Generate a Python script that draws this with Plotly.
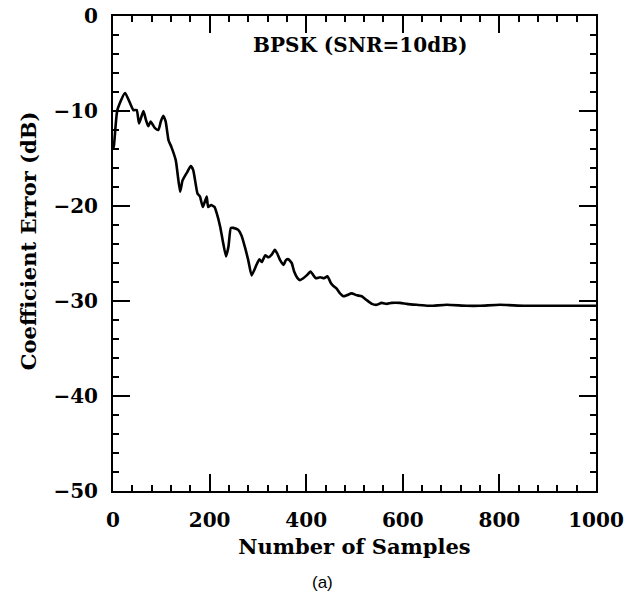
import plotly.graph_objects as go

samples = [0, 2, 9, 25, 42, 49, 54, 63, 68, 73, 78, 83, 87, 94, 99, 104, 109, 115, 121, 130,
           139, 144, 154, 161, 166, 175, 180, 186, 194, 197, 203, 210, 215, 222, 227, 234,
           239, 244, 249, 259, 266, 273, 280, 287, 297, 303, 308, 315, 322, 329, 335, 340,
           346, 353, 358, 363, 370, 375, 382, 387, 394, 401, 409, 415, 420, 429, 437, 444,
           451, 456, 463, 470, 477, 484, 494, 505, 515, 525, 536, 546, 556, 567, 577, 594,
           608, 629, 653, 663, 691, 732, 760, 801, 850, 900, 950, 1000]
error_db = [-14.0, -13.6, -9.9, -8.1, -9.9, -9.9, -11.3, -10.0, -10.9, -11.6, -11.1, -11.5,
            -11.8, -12.0, -11.1, -10.5, -11.1, -13.1, -13.8, -15.2, -18.5, -17.3, -16.4,
            -15.8, -16.2, -18.7, -19.0, -20.1, -19.0, -20.1, -19.9, -20.1, -20.8, -22.2,
            -23.6, -25.3, -24.3, -22.3, -22.3, -22.5, -23.1, -24.3, -25.7, -27.3, -26.2,
            -25.6, -25.9, -25.2, -25.4, -25.1, -24.6, -25.0, -25.7, -26.2, -25.7, -25.6,
            -26.0, -26.9, -27.6, -27.8, -27.6, -27.3, -26.9, -27.3, -27.6, -27.5, -27.6,
            -27.4, -28.1, -28.4, -28.7, -29.2, -29.5, -29.4, -29.2, -29.4, -29.5, -29.9,
            -30.3, -30.4, -30.2, -30.3, -30.2, -30.2, -30.3, -30.4, -30.5, -30.5, -30.4,
            -30.5, -30.5, -30.4, -30.5, -30.5, -30.5, -30.5]

x_ticks = [0, 200, 400, 600, 800, 1000]
y_ticks = [0, -10, -20, -30, -40, -50]

serif = "DejaVu Serif"

fig = go.Figure()
fig.add_trace(go.Scatter(x=samples, y=error_db, mode="lines",
                         line=dict(color="black", width=2.6, shape="spline", smoothing=0.5),
                         showlegend=False, hoverinfo="skip"))

axis_common = dict(
    showgrid=False, zeroline=False, showline=True, linecolor="black", linewidth=2,
    mirror="allticks", ticks="inside", ticklen=17, tickwidth=1.6, tickcolor="black",
    tickfont=dict(family=serif, size=20, color="black", weight="bold"),
    automargin=False, ticklabeloverflow="allow",
)

fig.update_xaxes(range=[0, 1000], tickvals=x_ticks, ticktext=[str(v) for v in x_ticks],
                 minor=dict(ticks="inside", ticklen=6, dtick=40, tickwidth=1.6, tickcolor="black"),
                 title=dict(text="Number of Samples",
                            font=dict(family=serif, size=21, color="black", weight="bold"),
                            standoff=8),
                 ticklabelstandoff=10, **axis_common)
fig.update_yaxes(range=[-50, 0], tickvals=y_ticks, ticktext=["0", "−10", "−20", "−30", "−40", "−50"],
                 minor=dict(ticks="inside", ticklen=6, dtick=2, tickwidth=1.6, tickcolor="black"),
                 ticklabelstandoff=9, **axis_common)

fig.add_annotation(x=-0.176, y=0.528, xref="paper", yref="paper", text="Coefficient Error (dB)",
                   textangle=-90, showarrow=False, xanchor="center", yanchor="middle",
                   font=dict(family=serif, size=21, color="black", weight="bold"))
fig.add_annotation(x=511, y=-3.1, xref="x", yref="y", text="BPSK (SNR=10dB)", showarrow=False,
                   font=dict(family=serif, size=20, color="black", weight="bold"))
fig.add_annotation(x=0.433, y=-0.217, xref="paper", yref="paper", text="(a)", showarrow=False,
                   font=dict(family="Liberation Sans", size=17, color="black"))

fig.update_layout(width=633, height=593, margin=dict(l=113, r=37, t=16, b=102),
                  plot_bgcolor="white", paper_bgcolor="white")

fig.write_html("out.html", config={"displayModeBar": False},
               post_script="document.body.style.margin='0';document.body.style.overflow='hidden';")
